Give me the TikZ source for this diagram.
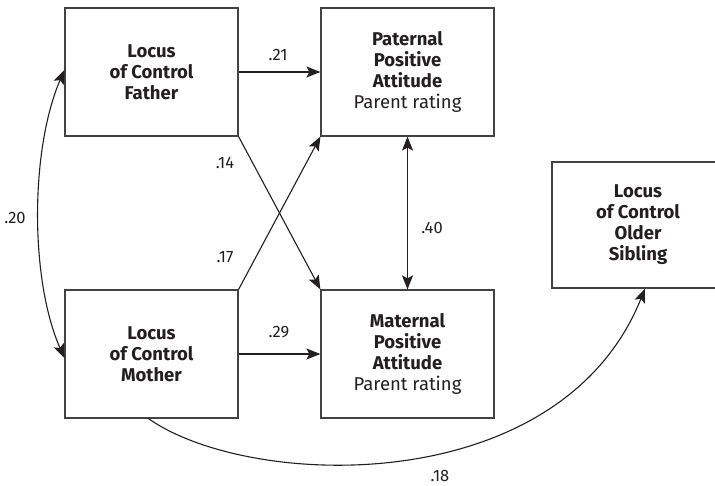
\documentclass[tikz,border=0pt]{standalone}
\usepackage{fontspec}
\setmainfont{Fira Sans}
\usetikzlibrary{arrows.meta}
\definecolor{ink}{HTML}{231F20}
\tikzset{
  tip/.tip={Stealth[length=14pt,width=11pt,inset=3pt]},
  box/.style={draw=ink!85, line width=1.2pt, minimum width=173pt, minimum height=128pt, inner sep=0pt, align=center, font=\fontsize{18.5}{21}\selectfont, text=ink},
  conn/.style={draw=ink, line width=1.1pt, -tip},
  dconn/.style={draw=ink, line width=1.1pt, tip-tip},
  lab/.style={font=\fontsize{16.5}{18}\selectfont, text=ink, inner sep=0pt}
}
\begin{document}
\begin{tikzpicture}[x=1pt,y=-1pt]
\clip (0,0) rectangle (715,485);
\fill[white] (0,0) rectangle (715,485);
\node[box] (F) at (151.5,72) {\textbf{Locus}\\\textbf{of Control}\\\textbf{Father}};
\node[box] (P) at (407.5,72) {\textbf{Paternal}\\\textbf{Positive}\\\textbf{Attitude}\\Parent rating};
\node[box] (M) at (151.5,354) {\textbf{Locus}\\\textbf{of Control}\\\textbf{Mother}};
\node[box] (T) at (407.5,354) {\textbf{Maternal}\\\textbf{Positive}\\\textbf{Attitude}\\Parent rating};
\node[box, minimum width=172pt, minimum height=126pt] (S) at (638,225) {\textbf{Locus}\\\textbf{of Control}\\\textbf{Older}\\\textbf{Sibling}};

\draw[conn] (F.east) -- (P.west);
\draw[conn] (M.east) -- (T.west);
\draw[conn] (F.south east) -- (T.north west);
\draw[conn] (M.north east) -- (P.south west);
\draw[dconn] (P.south) -- (T.north);
\draw[dconn] ([yshift=2pt]F.west) .. controls (30,150) and (30,280) .. ([yshift=-4pt]M.west);
\draw[conn] ([xshift=-3pt]M.south) .. controls (250,490) and (560,500) .. ([xshift=7pt]S.south);

\node[lab] (l21) at (278,55) {.21};
\node[lab] (l14) at (225,163) {.14};
\node[lab] (l17) at (225,257) {.17};
\node[lab] (l29) at (279,332) {.29};
\node[lab] (l40) at (432,228) {.40};
\node[lab] (l20) at (15,218) {.20};
\node[lab] (l18) at (440,476) {.18};
\end{tikzpicture}
\end{document}
